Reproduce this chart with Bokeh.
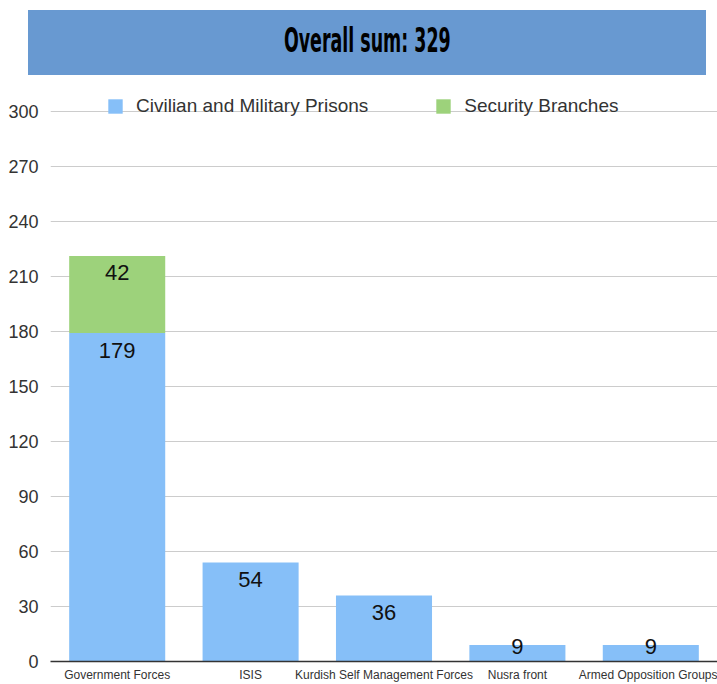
from bokeh.plotting import figure
from bokeh.models import ColumnDataSource, FixedTicker, Div
from bokeh.layouts import column
from bokeh.core.properties import value
from bokeh.embed import file_html
from bokeh.resources import INLINE

# ---- data ----
categories = ["Government Forces", "ISIS", "Kurdish Self Management Forces", "Nusra front", "Armed Opposition Groups"]
prisons = [179, 54, 36, 9, 9]
security = [42, 0, 0, 0, 0]
series_names = ["Civilian and Military Prisons", "Security Branches"]
title_text = "Overall sum: 329"
y_ticks = [0, 30, 60, 90, 120, 150, 180, 210, 240, 270, 300]

BLUE = "#86BFF8"
GREEN = "#9DD27B"
FONT = "Liberation Sans"

source = ColumnDataSource(dict(cat=categories, prisons=prisons, security=security))

p = figure(x_range=categories, y_range=(0, 315), width=717, height=604,
           output_backend="svg", toolbar_location=None,
           min_border_left=50, min_border_right=0, min_border_top=3, min_border_bottom=22)
p.margin = 0

p.vbar_stack(["prisons", "security"], x="cat", width=0.72, color=[BLUE, GREEN],
             source=source, legend_label=series_names, line_color=None)

# value labels
lx, ly, lt, ld = [], [], [], []
for c, a, b in zip(categories, prisons, security):
    for base, v in ((0, a), (a, b)):
        if v > 0:
            lx.append(c)
            ly.append(base + v)
            lt.append(str(v))
            ld.append(17 if v > 20 else 2)
p.text(x=lx, y=ly, text=lt, y_offset=ld, text_align="center", text_baseline="middle",
       text_font=value(FONT), text_font_size="22px", text_color="#111111")

p.yaxis.ticker = FixedTicker(ticks=y_ticks)
p.yaxis.axis_line_color = None
p.yaxis.major_tick_line_color = None
p.yaxis.major_tick_out = 0
p.yaxis.major_tick_in = 0
p.yaxis.minor_tick_line_color = None
p.yaxis.major_label_text_font = FONT
p.yaxis.major_label_text_font_size = "18px"
p.yaxis.major_label_text_color = "#333333"
p.yaxis.major_label_standoff = 12

p.xaxis.axis_line_color = "#333333"
p.xaxis.axis_line_width = 1.5
p.xaxis.major_tick_line_color = None
p.xaxis.major_tick_out = 0
p.xaxis.major_tick_in = 0
p.xaxis.major_label_text_font = FONT
p.xaxis.major_label_text_font_size = "12px"
p.xaxis.major_label_text_color = "#333333"
p.xaxis.major_label_standoff = 6

p.xgrid.grid_line_color = None
p.ygrid.grid_line_color = "#cccccc"
p.ygrid.grid_line_width = 1
p.outline_line_color = None

lg = p.legend[0]
lg.orientation = "horizontal"
lg.location = (56, 544)
lg.margin = 0
lg.padding = 0
lg.spacing = 66
lg.glyph_width = 18
lg.glyph_height = 18
lg.label_standoff = 12
lg.label_text_font = FONT
lg.label_text_font_size = "19px"
lg.label_text_color = "#333333"
lg.background_fill_alpha = 0
lg.border_line_color = None

title = Div(text=('<div style="position:absolute;left:28px;top:10px;width:678px;height:65px;'
                  'background:#6899D1;display:flex;align-items:center;justify-content:center;">'
                  '<span style="display:inline-block;transform:scaleX(0.57);'
                  "font-family:'DejaVu Sans Condensed','DejaVu Sans',sans-serif;font-stretch:condensed;"
                  'font-weight:bold;font-size:34px;color:#000;margin-top:-4px;">' + title_text + '</span></div>'),
            width=717, height=80, margin=0)

layout = column(title, p, spacing=0)
open("out.html", "w").write(file_html(layout, INLINE))
